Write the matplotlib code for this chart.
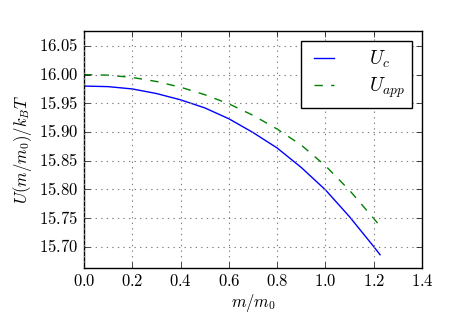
import matplotlib
matplotlib.use("Agg")
import matplotlib.pyplot as plt
from matplotlib.ticker import FuncFormatter

plt.style.use('classic')
plt.rcParams['mathtext.fontset'] = 'cm'
plt.rcParams['font.family'] = ['cmr10', 'DejaVu Serif']
plt.rcParams['axes.formatter.use_mathtext'] = True

m = [0.0, 0.1, 0.2, 0.3, 0.4, 0.5, 0.6, 0.7, 0.8, 0.9, 1.0, 1.1, 1.2, 1.226]
U_c = [15.980, 15.979, 15.975, 15.967, 15.956, 15.942, 15.923, 15.899,
       15.872, 15.838, 15.799, 15.752, 15.700, 15.686]
U_app = [16.000, 15.999, 15.995, 15.988, 15.978, 15.965, 15.949, 15.929,
         15.905, 15.877, 15.841, 15.798, 15.749, 15.736]

xticks = [0.0, 0.2, 0.4, 0.6, 0.8, 1.0, 1.2, 1.4]
yticks = [15.70, 15.75, 15.80, 15.85, 15.90, 15.95, 16.00, 16.05]

fig = plt.figure(figsize=(4.69, 3.13), dpi=100, facecolor='white')
ax = fig.add_axes([0.179, 0.144, 0.721, 0.757])
ax.plot(m, U_c, 'b-', lw=1.0, label=r'$U_c$')
ax.plot(m, U_app, 'g--', lw=1.0, label=r'$U_{app}$')
ax.set_xlim(0, 1.4)
ax.set_ylim(15.663, 16.076)
ax.set_yticks(yticks)
ax.set_xticks(xticks)
ax.xaxis.set_major_formatter(FuncFormatter(lambda v, p: r'$%.1f$' % v))
ax.yaxis.set_major_formatter(FuncFormatter(lambda v, p: r'$%.2f$' % v))
ax.tick_params(labelsize=12)
ax.grid(True, color='gray', linestyle=':', lw=0.8)
ax.set_xlabel(r'$m/m_0$', fontsize=12, labelpad=2)
ax.set_ylabel(r'$U(m/m_0)/k_BT$', fontsize=12, labelpad=4)
leg = ax.legend(loc='upper right', fontsize=14, handlelength=1.6, handletextpad=1.5,
                borderpad=0.4, labelspacing=0.3, fancybox=False)
leg.get_frame().set_linewidth(1.0)
fig.savefig('out.png', dpi=100, facecolor='white')
